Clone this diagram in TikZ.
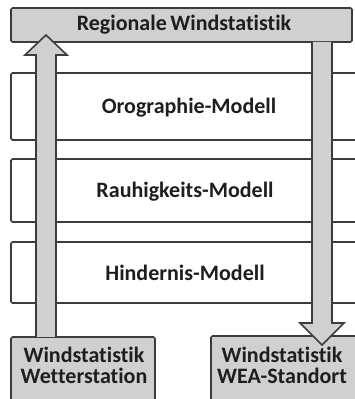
\documentclass[tikz,border=0pt]{standalone}
\usepackage{fontspec}
\setmainfont{Carlito}[Ligatures=NoCommon]
\usetikzlibrary{calc}
\definecolor{boxgray}{RGB}{208,208,208}
\definecolor{edge}{RGB}{60,60,60}
\definecolor{txt}{RGB}{30,30,30}
\tikzset{
  base/.style={draw=edge,line width=1.6pt,rounded corners=1.5pt},
  graybox/.style={base,fill=boxgray},
  whitebox/.style={base,fill=white},
  lbl/.style={text=txt,font=\bfseries\fontsize{22}{21}\selectfont,align=center,inner sep=0pt},
  bigarrow/.style={draw=edge,line width=1.6pt,fill=boxgray,line join=miter}
}
\begin{document}
\begin{tikzpicture}[x=1pt,y=1pt]
\useasboundingbox (0,0) rectangle (354,399);
% top box
\draw[graybox] (11,391) rectangle (352,357);
\node[lbl] (reg) at (184,374) {Regionale\,Windstatistik};
% model boxes
\draw[whitebox] (11,326) rectangle (370,259);
\node[lbl] (oro) at (189,291) {Orographie-Modell};
\draw[whitebox] (11,240) rectangle (370,177);
\node[lbl] (rau) at (185,207) {Rauhigkeits-Modell};
\draw[whitebox] (11,157) rectangle (370,96);
\node[lbl] (hin) at (185,126) {Hindernis-Modell};
% bottom boxes
\draw[graybox] (11,62) rectangle (155,-10);
\node[lbl] (ws) at (84,34) {Windstatistik\\Wetterstation};
\draw[graybox] (211,63) rectangle (370,-10);
\node[lbl] (wea) at (282,34) {Windstatistik\\WEA-Standort};
% left arrow (up)
\coordinate (la) at (46,62);
\coordinate (lt) at (46,364);
\draw[bigarrow] ($(la)+(-10,0)$) -- ($(la)+(-10,282)$) -- ($(la)+(-21,282)$) -- (lt)
  -- ($(la)+(21,282)$) -- ($(la)+(10,282)$) -- ($(la)+(10,0)$);
% right arrow (down)
\coordinate (ra) at (322,357);
\coordinate (rt) at (322,54);
\draw[bigarrow] ($(ra)+(-10,0)$) -- ($(rt)+(-10,22)$) -- ($(rt)+(-22,22)$) -- (rt)
  -- ($(rt)+(22,22)$) -- ($(rt)+(10,22)$) -- ($(ra)+(10,0)$);
\end{tikzpicture}
\end{document}
